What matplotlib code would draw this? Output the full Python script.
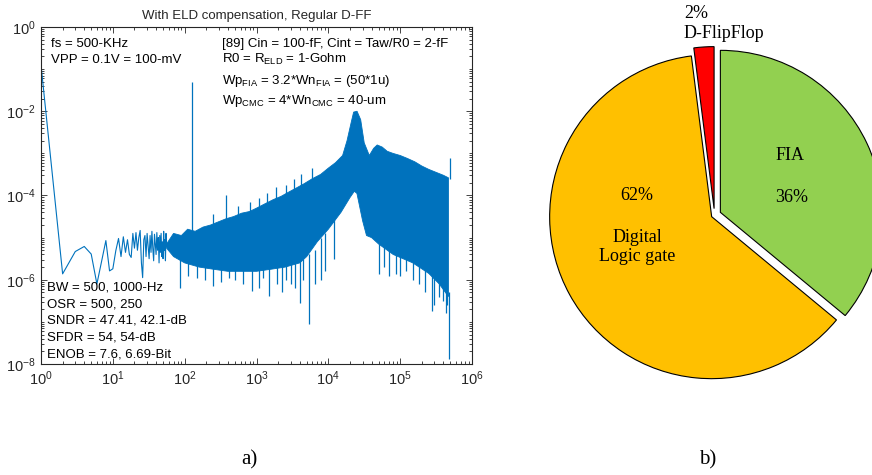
import numpy as np
import matplotlib
matplotlib.use("Agg")
import matplotlib.pyplot as plt
from matplotlib.ticker import LogLocator, NullFormatter, FixedLocator

plt.rcParams['font.family'] = ['Liberation Sans', 'DejaVu Sans']
plt.rcParams['mathtext.fontset'] = 'custom'
plt.rcParams['mathtext.rm'] = 'Liberation Sans'
plt.rcParams['mathtext.it'] = 'Liberation Sans:italic'
plt.rcParams['mathtext.bf'] = 'Liberation Sans:bold'

# ---------------- data: (a) output spectrum ----------------
# low-frequency FFT bins (Hz) and magnitude exponents (log10)
lf_freq = list(range(1, 57))
lf_log10 = [-0.90, -5.86, -5.33, -5.21, -5.39, -6.10, -5.55, -5.07, -5.79, -5.74,
            -5.31, -5.02, -5.45, -4.98, -5.35, -5.05, -5.40, -5.47, -4.90, -5.25,
            -4.88, -5.30, -5.00, -4.83, -5.60, -5.95, -5.05, -4.95, -5.45, -4.90,
            -5.20, -5.50, -4.95, -5.35, -4.85, -5.25, -5.55, -4.92, -5.15, -5.40,
            -4.88, -5.30, -5.00, -5.60, -4.95, -5.35, -4.90, -5.45, -5.10, -5.50,
            -4.85, -5.30, -5.05, -5.55, -4.90, -5.20]

# dense noise band: upper and lower envelopes
band_up_freq = [56, 70, 90, 110, 140, 180, 230, 300, 380, 480, 620, 800, 1000, 1300,
                1700, 2200, 2800, 3600, 4600, 6000, 7800, 10000, 12600, 15800, 18200,
                20900, 22500, 25100, 28200, 31600, 37200, 42700, 47900, 56200, 66000,
                79400, 100000, 126000, 160000, 200000, 250000, 316000, 400000, 470000]
band_up_log10 = [-5.15, -4.90, -4.95, -4.80, -4.85, -4.75, -4.70, -4.62, -4.55, -4.50,
                 -4.42, -4.38, -4.30, -4.20, -4.10, -4.02, -3.92, -3.82, -3.72, -3.60,
                 -3.50, -3.35, -3.22, -3.05, -2.70, -2.25, -2.02, -2.00, -2.20, -2.75,
                 -3.05, -2.88, -2.80, -2.85, -2.95, -3.00, -3.05, -3.12, -3.20, -3.30,
                 -3.38, -3.45, -3.52, -3.58]
band_lo_freq = [56, 70, 100, 160, 250, 400, 630, 1000, 1600, 2500, 4000, 5000, 7000,
                10000, 15000, 20000, 23000, 25000, 30000, 34000, 40000, 50000, 80000,
                150000, 250000, 350000, 470000]
band_lo_log10 = [-5.25, -5.45, -5.60, -5.70, -5.75, -5.80, -5.80, -5.80, -5.75, -5.70,
                 -5.60, -5.45, -5.10, -4.80, -4.40, -4.05, -3.90, -3.95, -4.60, -4.95,
                 -5.00, -5.15, -5.40, -5.60, -5.85, -6.10, -6.40]

# individual spikes: frequency, bottom exponent, top exponent
spike_freq = [87, 110, 150, 190, 245, 320, 420, 500, 650, 870, 1100, 1250, 1500, 1900,
              2300, 2600, 3000, 3400, 4000, 4500, 5300, 6500, 8000, 9000, 12000, 51000,
              60000, 70000, 87000, 100000, 120000, 150000, 180000, 220000, 275000,
              300000, 350000, 400000, 430000, 450000, 485000,
              125, 250, 380, 550, 800, 1100, 1400, 1860, 2600, 3300, 4200, 6000, 490000]
spike_lo_log10 = [-6.20, -5.90, -5.95, -6.00, -6.14, -6.05, -5.95, -6.00, -6.10, -6.26,
                  -6.20, -5.95, -6.38, -6.10, -6.30, -6.00, -6.10, -6.20, -6.55, -6.00,
                  -7.05, -6.10, -6.00, -5.80, -5.50, -5.86, -5.70, -5.90, -5.86, -5.90,
                  -5.80, -6.00, -6.10, -6.30, -6.74, -6.60, -6.40, -6.50, -6.80, -6.60,
                  -7.88,
                  -5.00, -4.80, -4.70, -4.60, -4.50, -4.40, -4.30, -4.20, -4.10, -4.00,
                  -3.90, -3.70, -3.60]
spike_hi_log10 = [-5.30, -5.50, -5.50, -5.60, -5.60, -5.60, -5.60, -5.70, -5.70, -5.70,
                  -5.70, -5.70, -5.70, -5.70, -5.60, -5.60, -5.60, -5.60, -5.50, -5.50,
                  -5.40, -5.30, -5.00, -4.90, -4.50, -5.10, -5.20, -5.30, -5.35, -5.40,
                  -5.45, -5.55, -5.60, -5.70, -5.80, -5.90, -6.00, -6.20, -6.25, -6.30,
                  -6.30,
                  -1.31, -4.45, -4.00, -4.25, -4.15, -4.05, -3.95, -3.80, -3.75, -3.60,
                  -3.50, -3.35, -3.12]

left_notes = ["fs = 500-KHz", "VPP = 0.1V = 100-mV"]
right_notes = ["[89] Cin = 100-fF, Cint = Taw/R0 = 2-fF",
               r"R0 = R$_{\mathrm{ELD}}$ = 1-Gohm",
               r"Wp$_{\mathrm{FIA}}$ = 3.2*Wn$_{\mathrm{FIA}}$ = (50*1u)",
               r"Wp$_{\mathrm{CMC}}$ = 4*Wn$_{\mathrm{CMC}}$ = 40-um"]
bottom_notes = ["BW = 500, 1000-Hz", "OSR = 500, 250", "SNDR = 47.41, 42.1-dB",
                "SFDR = 54, 54-dB", "ENOB = 7.6, 6.69-Bit"]
title_a = "With ELD compensation, Regular D-FF"

# ---------------- data: (b) power breakdown pie ----------------
pie_labels = ["FIA", "Digital\nLogic gate", "D-FlipFlop"]
pie_values = [36, 62, 2]
pie_colors = ["#92D050", "#FFC000", "#FF0000"]
pie_explode = [0.04, 0.02, 0.04]

# ---------------- figure ----------------
W, H = 872, 475
fig = plt.figure(figsize=(W / 100, H / 100), dpi=100)

def px_rect(x0, y0, x1, y1):
    return [x0 / W, 1 - y1 / H, (x1 - x0) / W, (y1 - y0) / H]

blue = "#0072BD"
ax = fig.add_axes(px_rect(41, 27, 472, 364))
ax.set_xscale('log')
ax.set_yscale('log')
ax.set_xlim(1, 1e6)
ax.set_ylim(1e-8, 1)

ax.plot(lf_freq, 10.0 ** np.array(lf_log10), color=blue, lw=0.8)
poly_f = np.concatenate([band_up_freq, band_lo_freq[::-1]])
poly_v = 10.0 ** np.concatenate([band_up_log10, band_lo_log10[::-1]])
ax.fill(poly_f, poly_v, color=blue, lw=0.6, ec=blue)
ax.vlines(spike_freq, 10.0 ** np.array(spike_lo_log10), 10.0 ** np.array(spike_hi_log10),
          color=blue, lw=0.9)

ax.xaxis.set_major_locator(FixedLocator([10.0 ** k for k in range(0, 7)]))
ax.yaxis.set_major_locator(FixedLocator([10.0 ** k for k in range(-8, 1, 2)]))
ax.xaxis.set_minor_locator(LogLocator(base=10, subs=np.arange(1, 10), numticks=100))
ax.yaxis.set_minor_locator(LogLocator(base=10, subs=np.arange(1, 10), numticks=100))
ax.xaxis.set_minor_formatter(NullFormatter())
ax.yaxis.set_minor_formatter(NullFormatter())
ax.tick_params(which='both', direction='in', top=True, right=True, colors='#262626',
               labelsize=10.5, width=0.6)
ax.tick_params(which='major', length=4, pad=4)
ax.tick_params(which='minor', length=2)
for s in ax.spines.values():
    s.set_linewidth(0.8)
    s.set_color('#262626')
ax.set_title(title_a, fontsize=9.5, color='#262626', pad=6)

def axpos(px, py):
    return (px - 41) / 431, (364 - py) / 337

for txt, py in zip(left_notes, [46.7, 62.7]):
    ax.text(*axpos(51, py), txt, transform=ax.transAxes, fontsize=9.5, va='baseline')
for txt, py in zip(right_notes, [46.7, 62.7, 84, 104]):
    ax.text(*axpos(222, py), txt, transform=ax.transAxes, fontsize=9.5, va='baseline')
for txt, py in zip(bottom_notes, [291, 307.7, 323.3, 340.7, 357.3]):
    ax.text(*axpos(46.5, py), txt, transform=ax.transAxes, fontsize=9.5, va='baseline')

# ---------------- pie ----------------
R = 162.0
cx, cy = 714.5, 215.1
xl = (-1.3, 1.3)
yl = (-1.3, 1.4)
pax = fig.add_axes(px_rect(cx + xl[0] * R, cy - yl[1] * R, cx + xl[1] * R, cy - yl[0] * R))
pax.pie(pie_values, colors=pie_colors, explode=pie_explode, startangle=90,
        counterclock=False, radius=1,
        wedgeprops=dict(edgecolor='black', linewidth=0.8))
pax.set_xlim(*xl)
pax.set_ylim(*yl)
pax.set_aspect('equal')
pax.axis('off')

serif = ['Liberation Serif', 'DejaVu Serif']
def dpos(px, py):
    return (px - cx) / R, (cy - py) / R

pax.text(*dpos(790, 155), pie_labels[0], fontsize=13, family=serif, ha='center', va='center')
pax.text(*dpos(792, 197), f"{pie_values[0]}%", fontsize=13, family=serif, ha='center', va='center')
pax.text(*dpos(637, 195), f"{pie_values[1]}%", fontsize=13, family=serif, ha='center', va='center')
pax.text(*dpos(637, 247), pie_labels[1], fontsize=13, family=serif, ha='center', va='center',
         linespacing=1.1)
pax.text(*dpos(684, 13), f"{pie_values[2]}%", fontsize=13, family=serif, ha='left',
         va='center', clip_on=False)
pax.text(*dpos(684, 33), pie_labels[2], fontsize=13, family=serif, ha='left',
         va='center', clip_on=False)

fig.text(249 / W, 1 - 460 / H, "a)", fontsize=15, family=serif, ha='center', va='center')
fig.text(708 / W, 1 - 460 / H, "b)", fontsize=15, family=serif, ha='center', va='center')

fig.savefig("out.png", dpi=100)
